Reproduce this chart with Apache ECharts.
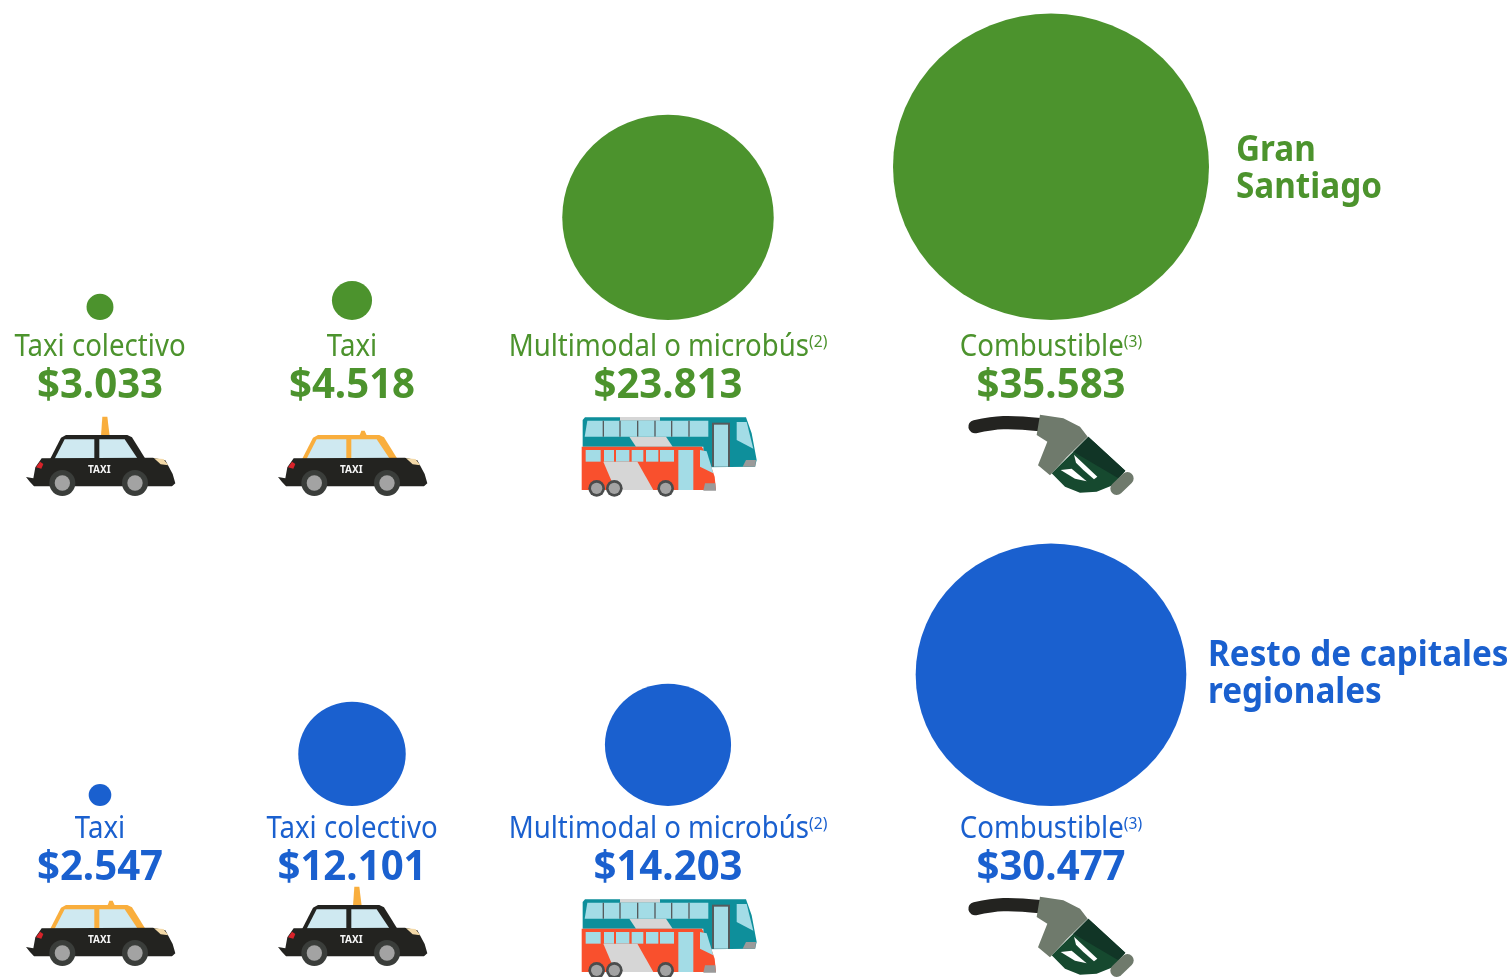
<!DOCTYPE html>
<html>
<head>
  <meta charset="utf-8">
  <title>Gasto en transporte</title>
  <script src="https://cdn.jsdelivr.net/npm/echarts@6/dist/echarts.min.js"></script>
  <style>html,body{margin:0;padding:0;background:#fff;}</style>
</head>
<body>
<div id="main" style="width:1511px;height:977px;"></div>
<script type="text/javascript">
  // datos de cada fila, de izquierda a derecha
  var santiagoNames = ['Taxi colectivo', 'Taxi', 'Multimodal o microbús', 'Combustible'];
  var santiagoNotes = ['', '', '(2)', '(3)'];
  var santiagoValues = [3033, 4518, 23813, 35583];
  var santiagoIcons = ['taxiBlack', 'taxiOrange', 'bus', 'pump'];

  var restoNames = ['Taxi', 'Taxi colectivo', 'Multimodal o microbús', 'Combustible'];
  var restoNotes = ['', '', '(2)', '(3)'];
  var restoValues = [2547, 12101, 14203, 30477];
  var restoIcons = ['taxiOrange', 'taxiBlack', 'bus', 'pump'];

  var regionNames = ['Gran\nSantiago', 'Resto de capitales\nregionales'];

  // layout: el eje va en pixeles de la pagina
  var colX = [100, 352, 668, 1051];
  var GREEN = '#4c932d', BLUE = '#1a60cf';
  var sizePerPeso = 316 / 35583;
  var squash = 0.97; // la imagen original esta un poco estirada a lo ancho
  var FONT = '"Noto Sans"';

  function poly(pts, fill) {
    return {type: 'polygon', shape: {points: pts}, style: {fill: fill}};
  }
  function rect(x, y, w, h, fill) {
    return {type: 'rect', shape: {x: x, y: y, width: w, height: h}, style: {fill: fill}};
  }
  function circ(x, y, r, fill) {
    return {type: 'circle', shape: {cx: x, cy: y, r: r}, style: {fill: fill}};
  }
  function line(pts, w, color) {
    return {type: 'polyline', shape: {points: pts, smooth: 0.4},
      style: {fill: 'none', stroke: color, lineWidth: w, lineCap: 'round', lineJoin: 'round'}};
  }

  // los iconos van dibujados a escala 3x, se reducen en el grupo
  function taxi(black) {
    var dark = '#232320', sky = '#cfe9f1', orange = '#f9ae3d';
    var roof = black ? dark : orange;
    var out = [];
    if (black) {
      out.push(poly([[303, 468], [307, 410], [322, 410], [329, 468]], orange));
    } else {
      out.push(poly([[322, 468], [328, 452], [338, 452], [345, 468]], orange));
    }
    out.push(poly([[150, 538], [183, 473], [198, 465], [382, 465], [396, 472], [437, 538]], roof));
    out.push(poly([[164, 536], [194, 478], [283, 478], [283, 536]], sky));
    out.push(poly([[298, 478], [374, 478], [413, 536], [298, 536]], sky));
    out.push(poly([[78, 591], [100, 595], [106, 562], [125, 535], [458, 533], [496, 541],
      [518, 582], [526, 610], [516, 619], [102, 619], [90, 606]], dark));
    out.push(poly([[108, 562], [120, 545], [130, 552], [124, 566]], '#d8232a'));
    out.push(poly([[462, 535], [490, 537], [505, 556], [482, 553]], '#f3d9a8'));
    [187, 405].forEach(function (cx) {
      out.push(circ(cx, 609, 39, '#3a3d3a'));
      out.push(circ(cx, 609, 23, '#a3a3a3'));
    });
    out.push({type: 'text', style: {text: 'TAXI', x: 298, y: 571, align: 'center', verticalAlign: 'middle',
      font: 'bold 30px ' + FONT, fill: '#f4f4f4'}});
    return out;
  }

  function bus() {
    var teal = '#0e8f9b', glass = '#a3dce6', grey = '#d6d6d6', edge = '#555a5c', red = '#f9502d';
    var out = [];
    out.push(poly([[278, 300], [285, 292], [768, 292], [785, 340], [800, 420], [795, 440], [640, 442], [640, 380], [278, 380]], teal));
    out.push(poly([[390, 291], [510, 291], [510, 302], [390, 302]], grey));
    out.push(poly([[292, 302], [655, 302], [655, 350], [284, 350]], glass));
    [340, 390, 443, 495, 545, 597].forEach(function (x) {
      out.push(rect(x - 2, 302, 4, 48, edge));
    });
    out.push(poly([[418, 350], [528, 350], [548, 380], [438, 380]], grey));
    out.push(rect(666, 308, 54, 132, edge));
    out.push(rect(672, 314, 42, 126, glass));
    out.push(poly([[740, 306], [770, 306], [790, 386], [740, 360]], glass));
    out.push(poly([[768, 420], [798, 420], [796, 440], [758, 440]], '#9a9a9a'));
    out.push(poly([[275, 380], [636, 380], [660, 430], [674, 470], [678, 510], [275, 510]], red));
    out.push(poly([[340, 425], [442, 425], [490, 510], [376, 510]], grey));
    [[287, 332], [342, 372], [378, 418], [425, 460], [468, 505], [510, 552]].forEach(function (w) {
      out.push(rect(w[0], 390, w[1] - w[0], 35, glass));
    });
    out.push(rect(565, 390, 45, 120, glass));
    out.push(poly([[630, 390], [650, 394], [670, 460], [630, 440]], glass));
    out.push(poly([[645, 490], [676, 490], [678, 512], [640, 512]], '#9a9a9a'));
    [320, 373, 527].forEach(function (cx) {
      out.push(circ(cx, 505, 25, '#4a4c4c'));
      out.push(circ(cx, 505, 17, '#a3a3a3'));
    });
    return out;
  }

  function pump() {
    var dark = '#232320', grey = '#6f7a6c', deep = '#113526', mid = '#16492f';
    var out = [];
    out.push(line([[105, 320], [190, 308], [300, 314]], 40, dark));
    out.push(poly([[400, 395], [445, 350], [556, 452], [520, 495], [470, 515], [420, 518], [375, 500], [335, 460]], mid));
    out.push(poly([[400, 395], [445, 350], [556, 452], [535, 475]], deep));
    out.push(poly([[402, 404], [472, 470], [462, 478], [430, 450], [408, 428]], '#ffffff'));
    out.push(poly([[362, 450], [395, 446], [440, 484], [405, 476]], '#ffffff'));
    out.push(poly([[300, 284], [370, 295], [420, 320], [443, 350], [380, 412], [330, 466], [294, 436], [322, 365], [290, 345]], grey));
    out.push(line([[562, 475], [530, 506]], 38, grey));
    return out;
  }

  function iconParts(kind) {
    if (kind === 'taxiBlack') return {parts: taxi(true), ox: 0, oy: 280};
    if (kind === 'taxiOrange') return {parts: taxi(false), ox: 0, oy: 280};
    if (kind === 'bus') return {parts: bus(), ox: 490 - 668 + 100, oy: 320};
    return {parts: pump(), ox: 940 - 1051 + 100, oy: 320};
  }

  function labelSeries(names, notes, values, icons, color, base, taxiShift) {
    return {
      type: 'custom',
      coordinateSystem: 'cartesian2d',
      silent: true,
      clip: false,
      data: colX.map(function (x) { return [x, base]; }),
      encode: {x: 0, y: 1},
      renderItem: function (params, api) {
        var i = params.dataIndex;
        var p = api.coord([api.value(0), api.value(1)]);
        var money = '$' + String(values[i]).replace(/\B(?=(\d{3})+$)/g, '.');
        var icon = iconParts(icons[i]);
        var isTaxi = icons[i].indexOf('taxi') === 0;
        var dy = p[1] - 320;
        var iconDy = isTaxi ? taxiShift : dy;
        return {
          type: 'group',
          children: [
            {
              type: 'text', x: p[0], y: p[1] + 27, scaleX: 0.92,
              style: {
                text: '{n|' + names[i] + '}' + (notes[i] ? '{s|' + notes[i] + '}' : ''),
                align: 'center', verticalAlign: 'middle',
                rich: {
                  n: {font: '400 30px ' + FONT, fill: color},
                  s: {font: '400 17px ' + FONT, fill: color, padding: [0, 0, 10, 0]}
                }
              }
            },
            {
              type: 'text', x: p[0], y: p[1] + 66, scaleX: 0.98,
              style: {
                text: money, align: 'center', verticalAlign: 'middle',
                font: '700 41px ' + FONT, fill: color
              }
            },
            {
              type: 'group',
              x: p[0] - 100 + icon.ox,
              y: icon.oy + iconDy,
              scaleX: 1 / 3, scaleY: 1 / 3,
              children: icon.parts
            }
          ]
        };
      }
    };
  }

  function bubbleSeries(values, color, base) {
    return {
      type: 'scatter',
      silent: true,
      data: values.map(function (v, i) { return [colX[i], base, v]; }),
      symbol: 'circle',
      symbolSize: function (d) { return [d[2] * sizePerPeso, d[2] * sizePerPeso * squash]; },
      symbolOffset: [0, '-50%'],
      itemStyle: {color: color, opacity: 1}
    };
  }

  function regionSeries(name, x, y, color) {
    return {
      type: 'custom',
      silent: true,
      clip: false,
      data: [[x, y]],
      encode: {x: 0, y: 1},
      renderItem: function (params, api) {
        var p = api.coord([api.value(0), api.value(1)]);
        return {
          type: 'text', x: p[0], y: p[1], scaleX: 0.95,
          style: {
            text: name, align: 'left', verticalAlign: 'middle',
            font: '700 35px ' + FONT, lineHeight: 37, fill: color
          }
        };
      }
    };
  }

  var myChart = echarts.init(document.getElementById('main'));
  var option = {
    animation: false,
    backgroundColor: '#ffffff',
    grid: {left: 0, right: 0, top: 0, bottom: 0},
    xAxis: {type: 'value', min: 0, max: 1511, show: false},
    yAxis: {type: 'value', min: 0, max: 977, inverse: true, show: false},
    series: [
      bubbleSeries(santiagoValues, GREEN, 320),
      bubbleSeries(restoValues, BLUE, 806),
      labelSeries(santiagoNames, santiagoNotes, santiagoValues, santiagoIcons, GREEN, 320, 0),
      labelSeries(restoNames, restoNotes, restoValues, restoIcons, BLUE, 802, 470),
      regionSeries(regionNames[0], 1236, 170, GREEN),
      regionSeries(regionNames[1], 1208, 675, BLUE)
    ]
  };
  myChart.setOption(option);
</script>
</body>
</html>
